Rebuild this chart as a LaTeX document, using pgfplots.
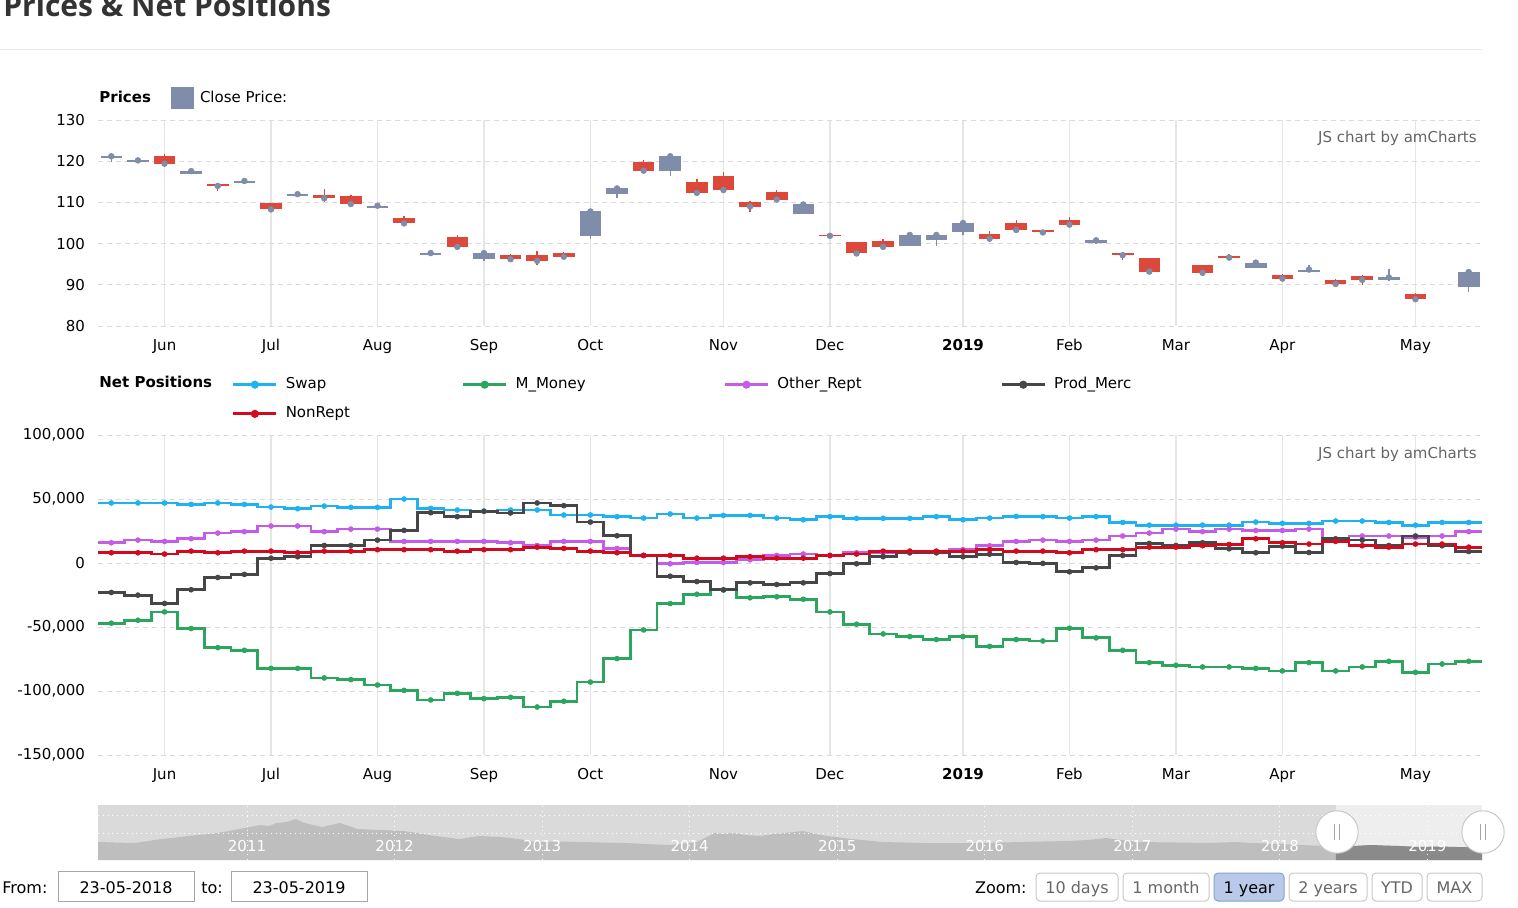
\documentclass[border=0pt]{standalone}
\usepackage{fontspec}
\setmainfont{DejaVu Sans}
\newfontfamily\titlefont{Open Sans}
\usepackage{pgfplots}
\usepackage{pgfplotstable}
\pgfplotsset{compat=1.18}

\definecolor{candgrey}{RGB}{128,141,170}
\definecolor{candred}{RGB}{220,72,58}
\definecolor{swapc}{RGB}{32,178,240}
\definecolor{mmc}{RGB}{44,165,94}
\definecolor{otc}{RGB}{196,92,232}
\definecolor{pmc}{RGB}{70,70,72}
\definecolor{nrc}{RGB}{210,10,30}
\definecolor{vgrid}{RGB}{230,230,230}
\definecolor{hgrid}{RGB}{218,218,218}
\definecolor{navbg}{RGB}{218,218,218}
\definecolor{navarea}{RGB}{190,190,190}
\definecolor{navsel}{RGB}{238,238,238}
\definecolor{navdark}{RGB}{138,138,138}
\definecolor{btnsel}{RGB}{184,201,234}
\definecolor{btnselb}{RGB}{140,160,205}
\definecolor{uiline}{RGB}{200,200,200}
\definecolor{wmark}{RGB}{100,100,100}

% weekly candles: index, open, high, low, close
\pgfplotstableread{
i O H L C
0 120.7 121.5 119.9 121.2
1 119.7 120.6 119.6 120.2
3 117.0 117.9 116.8 117.6
5 114.6 115.4 114.4 115.2
7 111.6 112.3 111.5 112.0
10 108.7 109.6 108.5 109.2
12 97.2 98.5 97.0 97.7
14 96.2 98.4 95.7 97.7
18 101.8 108.4 101.1 107.8
19 112.0 113.6 111.1 113.4
21 117.6 121.6 116.4 121.2
26 107.2 109.8 107.1 109.5
30 99.5 102.6 99.4 102.1
31 100.9 102.5 99.3 102.1
32 102.8 105.5 102.2 105.0
37 100.2 101.0 100.0 100.8
43 94.1 95.7 94.0 95.4
45 93.1 94.8 93.0 93.7
48 91.1 93.9 91.0 91.8
51 89.4 93.6 88.3 93.1
}\uptab
\pgfplotstableread{
i O H L C
2 121.2 121.7 119.2 119.4
4 114.5 114.7 112.8 114.0
6 109.8 109.9 108.0 108.3
8 111.9 113.3 110.1 111.0
9 111.5 111.7 109.4 109.6
11 106.1 106.8 104.7 104.9
13 101.7 102.2 99.0 99.2
15 97.3 97.4 96.0 96.2
16 97.3 98.3 94.9 95.8
17 97.7 97.9 96.6 96.8
20 119.8 120.2 116.8 117.7
22 114.9 115.8 112.0 112.3
23 116.5 117.4 112.8 113.0
24 110.2 110.4 107.7 109.0
25 112.6 112.9 110.4 110.7
27 102.2 102.3 101.8 101.9
28 100.4 100.5 97.3 97.6
29 100.7 101.0 99.0 99.2
33 102.4 103.0 100.3 101.2
34 105.1 105.8 103.0 103.3
35 103.2 103.3 102.3 102.7
36 105.8 106.4 104.0 104.6
38 97.8 98.0 96.0 97.2
39 96.5 96.6 93.0 93.2
41 94.7 94.8 92.7 92.9
42 97.1 97.5 96.4 96.6
44 92.4 92.6 91.3 91.5
46 91.05 91.3 89.6 90.2
47 92.1 92.3 89.9 91.2
49 87.8 88.0 86.3 86.5
}\downtab

% weekly net positions
\pgfplotstableread{
i sw mm ot pm nr
-0.5 46900 -47000 15800 -23000 8000
0 46900 -47000 15800 -23000 8000
1 46900 -44700 17900 -25100 8000
2 46900 -38200 16900 -31600 7000
3 45800 -51200 19000 -20900 9300
4 46900 -66100 23400 -11300 8000
5 45800 -68200 24500 -8900 9300
6 43700 -82300 28900 3800 9300
7 42400 -82300 28900 4900 8000
8 44500 -89800 24500 13700 9300
9 43500 -91100 26500 13700 9300
10 43500 -95300 26500 17900 10400
11 50000 -99500 16900 25500 10400
12 42700 -107000 16900 39300 10400
13 41400 -101800 16900 36200 9300
14 40600 -106000 16900 40400 10400
15 41400 -104900 15800 39100 10400
16 41400 -112500 13700 46900 12400
17 37500 -108000 16900 44800 11400
18 37500 -93000 16900 32000 9300
19 36200 -74700 11400 21300 8000
20 35100 -52300 5900 5900 5900
21 38300 -31700 -600 -10300 5900
22 35100 -24400 400 -14500 3800
23 37200 -21000 400 -21000 3800
24 37200 -27200 2500 -15500 4900
25 35100 -26400 5900 -16800 3800
26 33800 -28300 7000 -15500 3800
27 36200 -38200 5900 -8200 5900
28 34900 -47800 8000 -600 7000
29 34900 -55400 8000 4900 9300
30 34900 -57500 8000 8000 9300
31 36200 -59800 8000 8000 9300
32 33800 -57500 10400 4900 9300
33 35100 -65100 13500 6900 10400
34 36400 -59800 16900 400 9300
35 36200 -60900 17900 -300 9300
36 35100 -50900 16900 -6900 8000
37 36200 -58500 17900 -3800 10400
38 31700 -68200 21100 5900 10400
39 29600 -77800 23400 15300 12400
40 29600 -79900 26500 13700 12400
41 29600 -81200 24500 15800 13500
42 29600 -81200 26500 11100 14500
43 32000 -82300 25400 8000 18900
44 31000 -84300 25400 13200 15800
45 31000 -77800 26500 8200 14800
46 32800 -84300 17900 18900 16900
47 32800 -81200 21100 17900 13500
48 31700 -76800 21100 13700 12400
49 29600 -85400 20000 21100 14800
50 31700 -78900 21100 13500 14800
51 31700 -76800 24500 9000 12400
51.5 31700 -76800 24500 9000 12400
}\nettab

% navigator (long history)
\pgfplotstableread{
x h
2009.99 18
2010.10 17.5
2010.24 17
2010.33 19
2010.42 21
2010.55 23
2010.66 25
2010.75 26
2010.84 28
2010.95 31
2011.09 35
2011.15 34
2011.20 37
2011.27 38
2011.33 41
2011.39 37
2011.45 35
2011.51 33
2011.57 35
2011.63 37
2011.69 34
2011.75 31
2011.90 30
2012.06 29
2012.15 27
2012.23 25
2012.33 23
2012.44 21
2012.57 24
2012.72 23
2012.84 21
2012.96 18
2013.10 18.5
2013.26 18
2013.40 17.5
2013.57 17
2013.70 16
2013.87 15
2014.05 18
2014.17 27
2014.23 26
2014.29 27
2014.38 25
2014.48 24
2014.57 26
2014.65 27
2014.77 29
2014.85 26
2014.93 24
2015.10 21
2015.31 18
2015.60 17
2015.94 17
2016.10 17.5
2016.25 18
2016.40 18.5
2016.57 19
2016.70 20
2016.82 22
2016.92 20
2017.04 18
2017.30 17.5
2017.51 17
2017.70 18
2017.82 17
2018.00 16
2018.14 15
2018.30 14
2018.38 13.5
2018.50 14
2018.62 15
2018.70 14.5
2018.81 14
2018.95 13
2019.08 13.5
2019.20 13
2019.37 13
}\navtab

\pgfplotsset{
  amc/.style={
    scale only axis, width=692pt, xmin=-0.5, xmax=51.5,
    axis line style={draw=none}, major tick length=0pt, tick style={draw=none},
    xtick={2,6,10,14,18,23,27,32,36,40,44,49},
    xticklabels={Jun,Jul,Aug,Sep,Oct,Nov,Dec,\textbf{2019},Feb,Mar,Apr,May},
    xmajorgrids, ymajorgrids,
    x grid style={vgrid, line width=0.75pt},
    y grid style={hgrid, line width=0.5pt, dash pattern=on 2.5pt off 2pt},
    tick label style={font=\fontsize{7.5}{9}\selectfont, text=black},
    xticklabel style={anchor=base, yshift=-12pt},
    yticklabel style={anchor=east, xshift=-3pt},
    scaled y ticks=false,
    /pgf/number format/assume math mode=true,
    legend style={draw=none, fill=none, inner sep=0pt, outer sep=0pt,
      font=\fontsize{7.5}{9}\selectfont, nodes={inner sep=0pt}},
    legend cell align=left,
  },
  candle/.style={forget plot, draw=none, mark=none,
    error bars/.cd, y dir=both, y explicit, error mark=none,
    error bar style={draw=#1, line width=0.7pt}},
  body/.style={forget plot, draw=none, mark=none,
    error bars/.cd, y dir=both, y explicit, error mark=none,
    error bar style={draw=#1, line width=10.8pt}},
  stepl/.style={forget plot, const plot mark mid, color=#1, line width=1.4pt},
  stepm/.style={forget plot, only marks, mark=*, mark size=1.2pt, color=#1,
    restrict x to domain=0:51},
}

\begin{document}
\begin{tikzpicture}
\path[use as bounding box] (0,0) rectangle (759pt,453.5pt);

% title and separator
\node[anchor=base west, inner sep=0pt, text=black!80] at (1.5pt,445pt)
  {\titlefont\bfseries\fontsize{15}{18}\selectfont Prices \& Net Positions};
\draw[color=black!8, line width=0.5pt] (0pt,428.5pt) -- (741pt,428.5pt);

% ---------------- Prices ----------------
\begin{axis}[amc, at={(49pt,290.5pt)}, anchor=south west, height=103pt,
  ymin=80, ymax=130, ytick={80,90,100,110,120,130},
  legend style={at={(axis description cs:0.05275,1.107)}, anchor=west,
    /tikz/every odd column/.append style={column sep=3pt}},
  legend image code/.code={\fill[#1] (0pt,-5.5pt) rectangle (11.5pt,5.5pt);},
]
\addlegendimage{fill=candgrey, draw=none}
\addlegendentry{Close Price:}
% whiskers
\addplot[candle=candgrey] table[x=i, y expr={(\thisrow{O}+\thisrow{C})/2},
  y error plus expr={\thisrow{H}-(\thisrow{O}+\thisrow{C})/2},
  y error minus expr={(\thisrow{O}+\thisrow{C})/2-\thisrow{L}}] \uptab;
\addplot[candle=candred] table[x=i, y expr={(\thisrow{O}+\thisrow{C})/2},
  y error plus expr={\thisrow{H}-(\thisrow{O}+\thisrow{C})/2},
  y error minus expr={(\thisrow{O}+\thisrow{C})/2-\thisrow{L}}] \downtab;
% bodies
\addplot[body=candgrey] table[x=i, y expr={(\thisrow{O}+\thisrow{C})/2},
  y error expr={abs(\thisrow{O}-\thisrow{C})/2}] \uptab;
\addplot[body=candred] table[x=i, y expr={(\thisrow{O}+\thisrow{C})/2},
  y error expr={abs(\thisrow{O}-\thisrow{C})/2}] \downtab;
% close bullets
\addplot[forget plot, only marks, mark=*, mark size=1.4pt, color=candgrey] table[x=i, y=C] \uptab;
\addplot[forget plot, only marks, mark=*, mark size=1.4pt, color=candgrey] table[x=i, y=C] \downtab;
\end{axis}
\node[anchor=base west, inner sep=0pt] at (49.5pt,402pt) {\fontsize{7.5}{9}\selectfont\bfseries Prices};
\node[anchor=base east, inner sep=0pt, text=wmark] at (738.5pt,382pt) {\fontsize{7.5}{9}\selectfont JS chart by amCharts};

% ---------------- Net positions ----------------
\begin{axis}[amc, at={(49pt,76pt)}, anchor=south west, height=160pt,
  ymin=-150000, ymax=100000,
  ytick={-150000,-100000,-50000,0,50000,100000},
  yticklabels={{-150,000},{-100,000},{-50,000},0,{50,000},{100,000}},
  legend columns=4,
  legend style={at={(axis description cs:0.0968,1.112)}, anchor=west,
    /tikz/every odd column/.append style={column sep=4pt},
    /tikz/every even column/.append style={column sep=68pt},
    row sep=7.5pt},
  legend image code/.code={\draw[#1] (0pt,0pt) -- (21.5pt,0pt);
    \fill[#1] (10.75pt,0pt) circle[radius=1.3pt];},
]
\addlegendimage{color=swapc, line width=1.4pt}
\addlegendentry{\makebox[20pt][l]{Swap}}
\addlegendimage{color=mmc, line width=1.4pt}
\addlegendentry{\makebox[36pt][l]{M\_Money}}
\addlegendimage{color=otc, line width=1.4pt}
\addlegendentry{\makebox[43.5pt][l]{Other\_Rept}}
\addlegendimage{color=pmc, line width=1.4pt}
\addlegendentry{\makebox[40pt][l]{Prod\_Merc}}
\addlegendimage{color=nrc, line width=1.4pt}
\addlegendentry{\makebox[20pt][l]{NonRept}}

\addplot[stepl=swapc] table[x=i, y=sw] \nettab;
\addplot[stepm=swapc] table[x=i, y=sw] \nettab;
\addplot[stepl=mmc] table[x=i, y=mm] \nettab;
\addplot[stepm=mmc] table[x=i, y=mm] \nettab;
\addplot[stepl=otc] table[x=i, y=ot] \nettab;
\addplot[stepm=otc] table[x=i, y=ot] \nettab;
\addplot[stepl=pmc] table[x=i, y=pm] \nettab;
\addplot[stepm=pmc] table[x=i, y=pm] \nettab;
\addplot[stepl=nrc] table[x=i, y=nr] \nettab;
\addplot[stepm=nrc] table[x=i, y=nr] \nettab;
\end{axis}
\node[anchor=base west, inner sep=0pt] at (49.5pt,259.75pt) {\fontsize{7.5}{9}\selectfont\bfseries Net Positions};
\node[anchor=base east, inner sep=0pt, text=wmark] at (738.5pt,224.5pt) {\fontsize{7.5}{9}\selectfont JS chart by amCharts};

% ---------------- Navigator ----------------
\begin{axis}[at={(49pt,23.5pt)}, anchor=south west, scale only axis,
  width=692pt, height=27.5pt, xmin=2009.99, xmax=2019.37, ymin=0, ymax=55,
  axis line style={draw=none}, ticks=none,
  axis background/.style={fill=navbg}]
\fill[navsel] (axis cs:2018.38,0) rectangle (axis cs:2019.37,55);
\addplot[forget plot, fill=navarea, draw=none] table[x=x, y=h] \navtab \closedcycle;
\addplot[forget plot, fill=navdark, draw=none, restrict x to domain=2018.38:2019.4] table[x=x, y=h] \navtab \closedcycle;
\pgfplotsinvokeforeach{2011,...,2019}{
  \draw[white, line width=0.4pt, dotted] (axis cs:#1,0) -- (axis cs:#1,55);
  \node[text=white, inner sep=0pt] at (axis cs:#1,13.5) {\fontsize{7.5}{9}\selectfont #1};
}
\draw[white, line width=0.4pt, dotted] (axis cs:2009.99,27) -- (axis cs:2019.37,27);
\draw[white, line width=0.4pt, dotted] (axis cs:2009.99,45) -- (axis cs:2019.37,45);
\end{axis}
% handles
\filldraw[fill=white, draw=uiline, line width=0.5pt] (668.5pt,37.5pt) circle[radius=10.6pt];
\draw[black!35, line width=0.5pt] (667.3pt,33.5pt) -- (667.3pt,41.5pt) (669.7pt,33.5pt) -- (669.7pt,41.5pt);
\filldraw[fill=white, draw=uiline, line width=0.5pt] (741.5pt,37.5pt) circle[radius=10.6pt];
\draw[black!35, line width=0.5pt] (740.3pt,33.5pt) -- (740.3pt,41.5pt) (742.7pt,33.5pt) -- (742.7pt,41.5pt);

% ---------------- Period selector ----------------
\begin{scope}[font=\fontsize{8}{9.6}\selectfont]
\node[anchor=base west, inner sep=0pt] at (1pt,7pt) {From:};
\draw[draw=black!35, line width=0.5pt] (29pt,3pt) rectangle (97pt,18pt);
\node[anchor=base, inner sep=0pt] at (63pt,7pt) {23-05-2018};
\node[anchor=base west, inner sep=0pt] at (100.5pt,7pt) {to:};
\draw[draw=black!35, line width=0.5pt] (115.5pt,3pt) rectangle (183.5pt,18pt);
\node[anchor=base, inner sep=0pt] at (149.5pt,7pt) {23-05-2019};
\node[anchor=base east, inner sep=0pt] at (513.5pt,7pt) {Zoom:};
\draw[draw=uiline, rounded corners=2pt, line width=0.5pt] (518pt,3pt) rectangle (559pt,17pt);
\node[anchor=base, inner sep=0pt, text=black!60] at (538.5pt,7pt) {10 days};
\draw[draw=uiline, rounded corners=2pt, line width=0.5pt] (561.5pt,3pt) rectangle (604.5pt,17pt);
\node[anchor=base, inner sep=0pt, text=black!60] at (583pt,7pt) {1 month};
\filldraw[fill=btnsel, draw=btnselb, rounded corners=2pt, line width=0.5pt] (607pt,3pt) rectangle (642pt,17pt);
\node[anchor=base, inner sep=0pt, text=black] at (624.5pt,7pt) {1 year};
\draw[draw=uiline, rounded corners=2pt, line width=0.5pt] (644.5pt,3pt) rectangle (683.5pt,17pt);
\node[anchor=base, inner sep=0pt, text=black!60] at (664pt,7pt) {2 years};
\draw[draw=uiline, rounded corners=2pt, line width=0.5pt] (686pt,3pt) rectangle (711pt,17pt);
\node[anchor=base, inner sep=0pt, text=black!60] at (698.5pt,7pt) {YTD};
\draw[draw=uiline, rounded corners=2pt, line width=0.5pt] (713.5pt,3pt) rectangle (741pt,17pt);
\node[anchor=base, inner sep=0pt, text=black!60] at (727.25pt,7pt) {MAX};
\end{scope}
\end{tikzpicture}
\end{document}
